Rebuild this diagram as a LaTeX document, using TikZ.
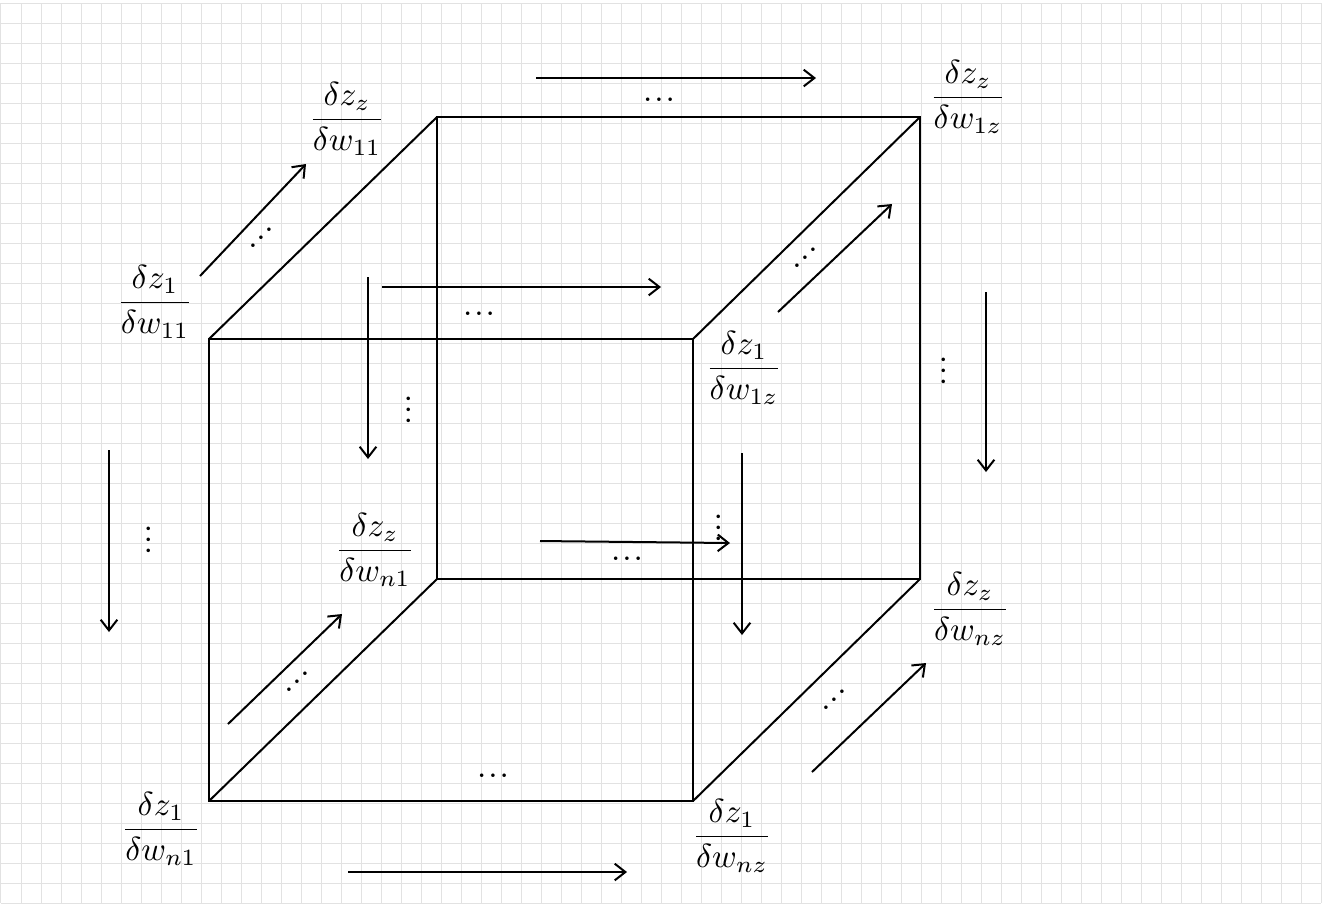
\documentclass[tikz,border=0pt]{standalone}
\usetikzlibrary{arrows.meta}
\newcommand\hdots{.\kern0.6pt.\kern0.6pt.}
\newcommand\updots{.\kern-0.4pt\raisebox{2.4pt}{.}\kern-0.4pt\raisebox{4.8pt}{.}}
\begin{document}
\begin{tikzpicture}[x=0.3pt,y=-0.3pt,
  edge/.style={line width=0.6pt},
  arr/.style={line width=0.6pt,-{Straight Barb[length=3.2pt,width=5pt]}},
  frac/.style={anchor=base,inner sep=0pt},
  dts/.style={inner sep=0pt},
  gridline/.style={draw={rgb,255:red,226;green,226;blue,226},line width=0.3pt}]
\useasboundingbox (0,0) rectangle (1324,908);
% grid background
\foreach \i in {0,...,66} \draw[gridline] ({1+20*\i},3.3) -- ({1+20*\i},903.3);
\foreach \j in {0,...,45} \draw[gridline] (1,{3.3+20*\j}) -- (1321,{3.3+20*\j});
% cube corners
\coordinate (ftl) at (209,339);
\coordinate (ftr) at (693,339);
\coordinate (fbl) at (209,801);
\coordinate (fbr) at (693,801);
\coordinate (btl) at (437,117);
\coordinate (btr) at (920,117);
\coordinate (bbl) at (437,579);
\coordinate (bbr) at (920,579);
\draw[edge] (ftl) -- (ftr) -- (fbr) -- (fbl) -- cycle;
\draw[edge] (btl) -- (btr) -- (bbr) -- (bbl) -- cycle;
\draw[edge] (ftl) -- (btl);
\draw[edge] (ftr) -- (btr);
\draw[edge] (fbl) -- (bbl);
\draw[edge] (fbr) -- (bbr);
% labels
\node[frac] (a) at (155,311) {$\displaystyle\frac{\delta z_1}{\delta w_{11}}$};
\node[frac] (b) at (347,128) {$\displaystyle\frac{\delta z_z}{\delta w_{11}}$};
\node[frac] (c) at (968,106) {$\displaystyle\frac{\delta z_z}{\delta w_{1z}}$};
\node[frac] (d) at (744,377) {$\displaystyle\frac{\delta z_1}{\delta w_{1z}}$};
\node[frac] (e) at (375,559) {$\displaystyle\frac{\delta z_z}{\delta w_{n1}}$};
\node[frac] (f) at (970,618) {$\displaystyle\frac{\delta z_z}{\delta w_{nz}}$};
\node[frac] (g) at (161,838) {$\displaystyle\frac{\delta z_1}{\delta w_{n1}}$};
\node[frac] (h) at (732,845) {$\displaystyle\frac{\delta z_1}{\delta w_{nz}}$};
% arrows
\coordinate (a1s) at (200,276); \coordinate (a1e) at (306,164);
\coordinate (a2s) at (536,78);  \coordinate (a2e) at (816,78);
\coordinate (a3s) at (382,287); \coordinate (a3e) at (661,287);
\coordinate (a4s) at (368,277); \coordinate (a4e) at (368,459);
\coordinate (a5s) at (778,312); \coordinate (a5e) at (892,204);
\coordinate (a6s) at (986,292); \coordinate (a6e) at (986,472);
\coordinate (a7s) at (109,450); \coordinate (a7e) at (109,632);
\coordinate (a8s) at (742,453); \coordinate (a8e) at (742,635);
\coordinate (a9s) at (540,541); \coordinate (a9e) at (730,543);
\coordinate (a10s) at (228,724); \coordinate (a10e) at (342,614);
\coordinate (a11s) at (812,772); \coordinate (a11e) at (926,663);
\coordinate (a12s) at (348,872); \coordinate (a12e) at (627,872);
\foreach \k in {1,...,12} \draw[arr] (a\k s) -- (a\k e);
% dots
\node[dts] (d1) at (659,100) {\hdots};
\node[dts] (d2) at (479,314) {\hdots};
\node[dts] (d3) at (627,559) {\hdots};
\node[dts] (d4) at (493,776) {\hdots};
\node[dts,rotate=90] (d5) at (409,410) {\hdots};
\node[dts,rotate=90] (d6) at (944,371) {\hdots};
\node[dts,rotate=90] (d7) at (149,540) {\hdots};
\node[dts,rotate=90] (d8) at (719,528) {\hdots};
\node[dts] (d9) at (261,238) {\updots};
\node[dts] (d10) at (805,258) {\updots};
\node[dts] (d11) at (297,682) {\updots};
\node[dts] (d12) at (834,700) {\updots};
\end{tikzpicture}
\end{document}
